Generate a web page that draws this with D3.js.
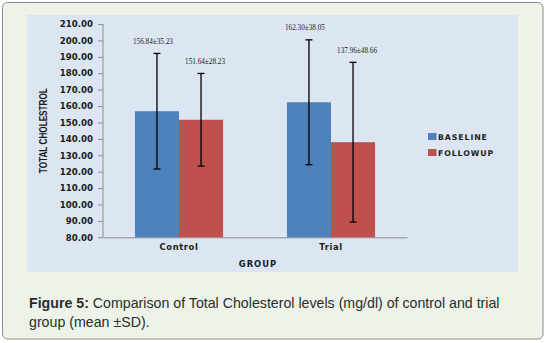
<!DOCTYPE html>
<html>
<head>
<meta charset="utf-8">
<script src="https://cdn.jsdelivr.net/npm/d3@7"></script>
<style>
  html, body { margin: 0; padding: 0; background: #ffffff; }
  svg { display: block; }
</style>
</head>
<body>
<svg id="chart"></svg>
<script>
const groups = ["Control", "Trial"];
const seriesNames = ["BASELINE", "FOLLOWUP"];
const baselineMean = [156.84, 162.3];
const baselineSD = [35.23, 38.05];
const followupMean = [151.64, 137.96];
const followupSD = [28.23, 48.66];
const yTickValues = [80, 90, 100, 110, 120, 130, 140, 150, 160, 170, 180, 190, 200, 210];
const seriesColors = ["#4f81bd", "#c0504d"];

const dims = {
  width: 546,
  height: 343,
  plot: { x: 27, y: 15, w: 491, h: 257 },
  axis: { left: 103, right: 407, top: 24, bottom: 237.3 },
  nudge: { labelDx: [-4, 4], labelDy: -13 },
};

const svg = d3.select("#chart")
  .attr("width", dims.width)
  .attr("height", dims.height);

// outer frame
svg.append("rect")
  .attr("x", 2.5).attr("y", 2.5)
  .attr("width", 540.5).attr("height", 336.5)
  .attr("rx", 5)
  .attr("fill", "#eef3e9")
  .attr("stroke", "#8c8c8c")
  .attr("stroke-width", 1);

// plot area
svg.append("rect")
  .attr("x", dims.plot.x).attr("y", dims.plot.y)
  .attr("width", dims.plot.w).attr("height", dims.plot.h)
  .attr("fill", "#dce6f2");

const yScale = d3.scaleLinear()
  .domain([80, 210])
  .range([dims.axis.bottom, dims.axis.top]);

const xScale = d3.scaleBand()
  .domain(groups)
  .range([dims.axis.left, dims.axis.right])
  .paddingInner(0.42)
  .paddingOuter(0.21);

const sScale = d3.scaleBand()
  .domain(seriesNames)
  .range([0, xScale.bandwidth()]);

// y axis
svg.append("g")
  .attr("transform", `translate(${dims.axis.left},0)`)
  .call(d3.axisLeft(yScale).tickValues(yTickValues).tickSize(5).tickPadding(5)
    .tickFormat(d3.format(".2f")))
  .call((g) => {
    g.selectAll("path.domain").attr("stroke", "#8c8c8c").attr("d", `M0,${dims.axis.top}V${dims.axis.bottom}`);
    g.selectAll(".tick line").attr("stroke", "#8c8c8c");
    g.selectAll(".tick text")
      .attr("font-family", "DejaVu Sans")
      .attr("font-weight", "bold")
      .attr("font-size", 8.6)
      .attr("fill", "#1a1a1a");
  });

// x axis
svg.append("g")
  .attr("transform", `translate(0,${dims.axis.bottom})`)
  .call(d3.axisBottom(xScale).tickSize(0).tickPadding(7))
  .call((g) => {
    g.selectAll("path.domain").attr("stroke", "#8c8c8c");
    g.selectAll(".tick text")
      .attr("font-family", "DejaVu Sans")
      .attr("font-weight", "bold")
      .attr("font-size", 8.4)
      .attr("letter-spacing", 0.6)
      .attr("fill", "#1a1a1a");
  });

const rows = groups.map((g, i) => ({
  group: g,
  values: [
    { key: seriesNames[0], mean: baselineMean[i], sd: baselineSD[i] },
    { key: seriesNames[1], mean: followupMean[i], sd: followupSD[i] },
  ],
}));

const color = d3.scaleOrdinal().domain(seriesNames).range(seriesColors);

const groupG = svg.append("g")
  .selectAll("g")
  .data(rows)
  .enter()
  .append("g")
  .attr("transform", (d) => `translate(${xScale(d.group)},0)`);

const bar = groupG.selectAll("g")
  .data((d) => d.values)
  .enter()
  .append("g");

bar.append("rect")
  .attr("x", (d) => sScale(d.key))
  .attr("y", (d) => yScale(d.mean))
  .attr("width", sScale.bandwidth())
  .attr("height", (d) => yScale(80) - yScale(d.mean))
  .attr("fill", (d) => color(d.key));

// error bars
const cx = (d) => sScale(d.key) + sScale.bandwidth() / 2;
bar.append("line")
  .attr("x1", cx).attr("x2", cx)
  .attr("y1", (d) => yScale(d.mean + d.sd))
  .attr("y2", (d) => yScale(d.mean - d.sd))
  .attr("stroke", "#000").attr("stroke-width", 1.3);
[1, -1].forEach((s) => {
  bar.append("line")
    .attr("x1", (d) => cx(d) - 3.5).attr("x2", (d) => cx(d) + 3.5)
    .attr("y1", (d) => yScale(d.mean + s * d.sd))
    .attr("y2", (d) => yScale(d.mean + s * d.sd))
    .attr("stroke", "#000").attr("stroke-width", 1.3);
});

// mean ± sd labels
bar.append("text")
  .attr("x", (d, i) => cx(d) + dims.nudge.labelDx[i])
  .attr("y", (d) => yScale(d.mean + d.sd) + dims.nudge.labelDy)
  .attr("dy", "0.35em")
  .attr("text-anchor", "middle")
  .attr("font-family", "Liberation Serif")
  .attr("font-size", 9)
  .attr("textLength", 40)
  .attr("lengthAdjust", "spacingAndGlyphs")
  .attr("fill", "#1a1a1a")
  .text((d) => `${d3.format(".2f")(d.mean)}±${d3.format(".2f")(d.sd)}`);

// axis titles
svg.append("text")
  .attr("transform", `translate(43.5,${(dims.axis.top + dims.axis.bottom) / 2}) rotate(-90)`)
  .attr("text-anchor", "middle")
  .attr("dy", "0.35em")
  .attr("font-family", "Liberation Sans")
  .attr("font-weight", "bold")
  .attr("font-size", 10)
  .attr("textLength", 85)
  .attr("lengthAdjust", "spacingAndGlyphs")
  .attr("fill", "#1a1a1a")
  .text("TOTAL CHOLESTROL");

svg.append("text")
  .attr("x", (dims.axis.left + dims.axis.right) / 2 + 3)
  .attr("y", 264)
  .attr("dy", "0.35em")
  .attr("text-anchor", "middle")
  .attr("font-family", "DejaVu Sans")
  .attr("font-weight", "bold")
  .attr("font-size", 8.4)
  .attr("letter-spacing", 1)
  .attr("fill", "#1a1a1a")
  .text("GROUP");

// legend
const legend = svg.append("g").attr("transform", "translate(428,133)");
seriesNames.forEach((name, i) => {
  const row = legend.append("g").attr("transform", `translate(0,${i * 16})`);
  row.append("rect")
    .attr("width", 8.5).attr("height", 7)
    .attr("fill", seriesColors[i]);
  row.append("text")
    .attr("x", 10).attr("y", 3.8)
    .attr("dy", "0.35em")
    .attr("font-family", "DejaVu Sans")
    .attr("font-weight", "bold")
    .attr("font-size", 7.8)
    .attr("letter-spacing", 0.9)
    .attr("fill", "#1a1a1a")
    .text(name);
});

// caption
const caption = svg.append("text")
  .attr("font-family", "Liberation Sans")
  .attr("font-size", 14.2)
  .attr("fill", "#2b2b2b");
const line1 = caption.append("tspan").attr("x", 29).attr("y", 307.5);
line1.append("tspan").attr("font-weight", "bold").text("Figure 5:");
line1.append("tspan").text(" Comparison of Total Cholesterol levels (mg/dl) of control and trial");
caption.append("tspan").attr("x", 29).attr("y", 327)
  .text("group (mean ±SD).");
</script>
</body>
</html>
